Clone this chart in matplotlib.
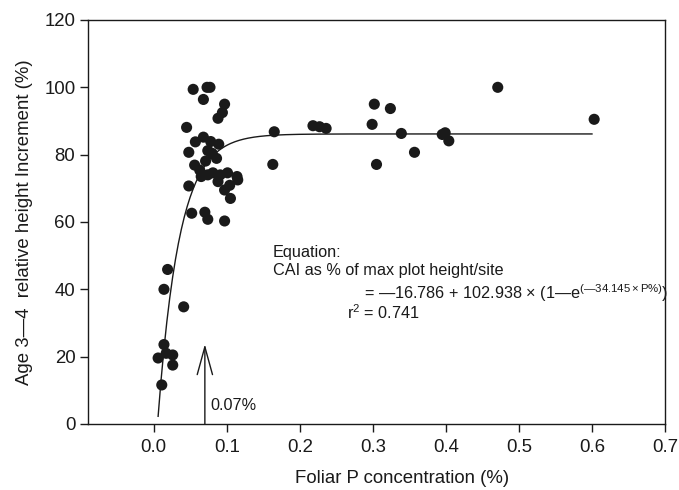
import numpy as np
import matplotlib
matplotlib.use("Agg")
import matplotlib.pyplot as plt

plt.rcParams['font.family'] = ['Liberation Sans', 'DejaVu Sans']
plt.rcParams['mathtext.fontset'] = 'custom'
plt.rcParams['mathtext.rm'] = 'Liberation Sans'
plt.rcParams['mathtext.it'] = 'Liberation Sans'

# observed foliar P (%) vs relative height increment (%)
foliar_p = [0.054, 0.073, 0.077, 0.068, 0.097, 0.094, 0.088, 0.045, 0.068, 0.057,
            0.078, 0.089, 0.048, 0.074, 0.080, 0.086, 0.071, 0.056, 0.063, 0.065,
            0.081, 0.074, 0.091, 0.101, 0.088, 0.114, 0.115, 0.104, 0.097, 0.105,
            0.048, 0.052, 0.070, 0.074, 0.097, 0.165, 0.163, 0.218, 0.227, 0.236,
            0.302, 0.324, 0.299, 0.339, 0.305, 0.357, 0.395, 0.399, 0.404, 0.471,
            0.603, 0.019, 0.014, 0.041, 0.014, 0.006, 0.017, 0.026, 0.026, 0.011]
height_inc = [99.4, 100.0, 100.0, 96.4, 95.0, 92.5, 90.8, 88.1, 85.2, 83.8,
              83.9, 83.1, 80.7, 81.2, 80.4, 78.9, 78.1, 76.9, 75.4, 73.5,
              74.6, 74.0, 74.0, 74.6, 72.0, 73.5, 72.5, 70.9, 69.5, 67.0,
              70.7, 62.6, 62.9, 60.8, 60.3, 86.8, 77.1, 88.6, 88.3, 87.8,
              95.0, 93.7, 89.0, 86.3, 77.1, 80.7, 86.0, 86.5, 84.1, 100.0,
              90.5, 45.9, 40.0, 34.8, 23.6, 19.6, 21.0, 20.5, 17.5, 11.6]

# fitted curve coefficients (from the equation on the chart)
y0, a, b = -16.786, 102.938, 34.145
p_fit = np.linspace(0.006, 0.6, 300)
cai_fit = y0 + a * (1 - np.exp(-b * p_fit))

ink = '#1a1a1a'
fig = plt.figure(figsize=(6.79, 4.90), dpi=100)
ax = fig.add_axes([0.1296, 0.1347, 0.8498, 0.8245])

ax.plot(p_fit, cai_fit, color=ink, lw=1.0, zorder=2)
ax.scatter(foliar_p, height_inc, s=64, color=ink, edgecolors='none', zorder=3)

# arrow at 0.07 %
ax.annotate('', xy=(0.07, 23.7), xytext=(0.07, 0),
            arrowprops=dict(arrowstyle='->,head_length=2.0,head_width=0.55',
                            color=ink, lw=1.0, shrinkA=0, shrinkB=0))
ax.text(0.0775, 5.5, '0.07%', fontsize=11.7, ha='left', va='center', color=ink)

ax.text(0.163, 51.0, 'Equation:', fontsize=11.7, ha='left', va='center', color=ink)
ax.text(0.163, 45.5, 'CAI as % of max plot height/site', fontsize=11.7,
        ha='left', va='center', color=ink)
ax.text(0.288, 39.0,
        r'= —16.786 + 102.938 $\times$ (1—e$^{(—34.145\times P\%)}$)',
        fontsize=11.7, ha='left', va='center', color=ink)
ax.text(0.264, 33.0, r'r$^2$ = 0.741', fontsize=11.7, ha='left', va='center',
        color=ink)

ax.set_xlim(-0.09, 0.7)
ax.set_ylim(0, 120)
ax.set_xticks([0.0, 0.1, 0.2, 0.3, 0.4, 0.5, 0.6, 0.7])
ax.set_xticklabels(['0.0', '0.1', '0.2', '0.3', '0.4', '0.5', '0.6', '0.7'])
ax.set_yticks([0, 20, 40, 60, 80, 100, 120])
ax.tick_params(axis='both', labelsize=13.4, length=6, width=1, color=ink,
               labelcolor=ink)
ax.tick_params(axis='x', pad=5)
ax.tick_params(axis='y', pad=3)
for sp in ax.spines.values():
    sp.set_linewidth(1.0)
    sp.set_color(ink)

ax.set_xlabel('Foliar P concentration (%)', fontsize=13.4, labelpad=10, color=ink,
              x=0.544)
ax.set_ylabel('Age 3—4  relative height Increment (%)', fontsize=13.4, labelpad=8,
              color=ink)

fig.savefig('out.png', dpi=100)
